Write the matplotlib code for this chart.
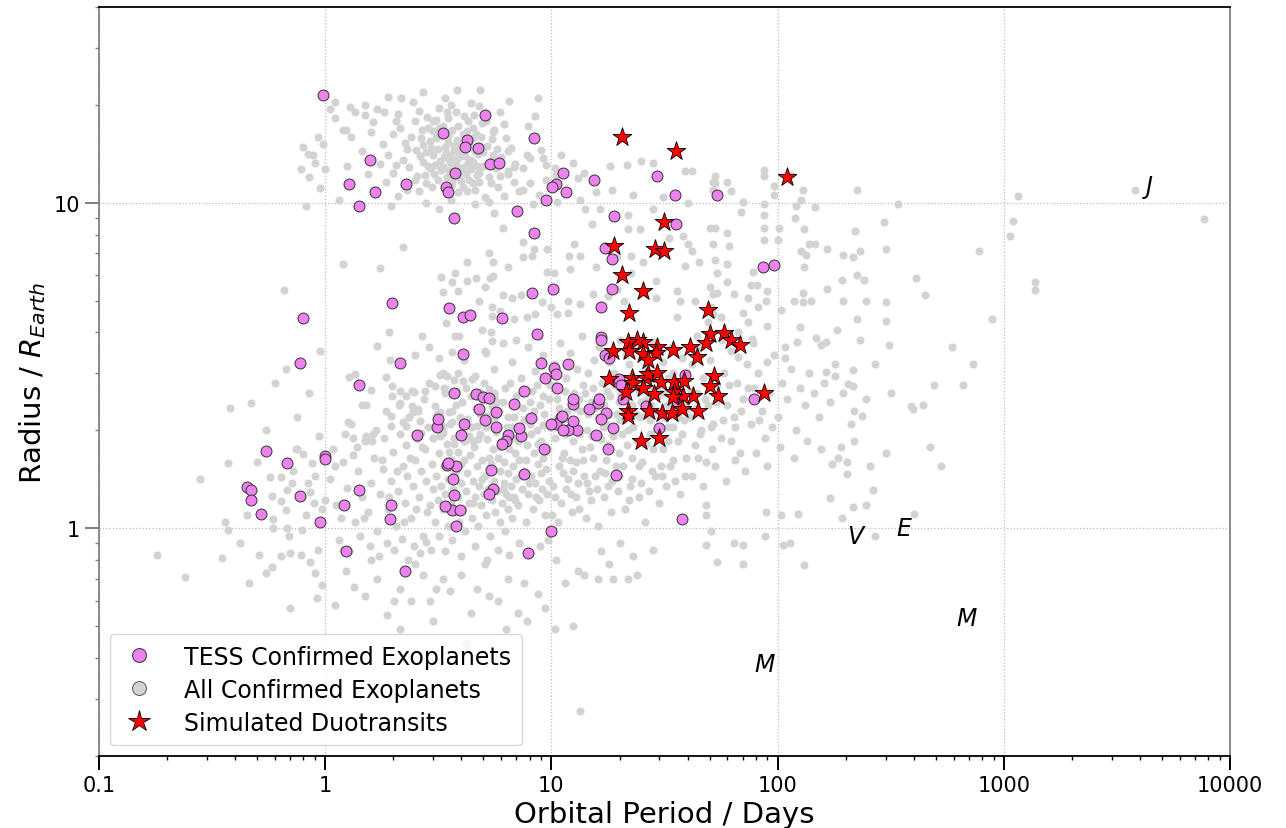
import numpy as np
import matplotlib
matplotlib.use("Agg")
import matplotlib.pyplot as plt
from matplotlib.lines import Line2D
from matplotlib.ticker import NullFormatter

# --- all confirmed exoplanets (period [d], radius [R_earth]) ---
gray_hot_jupiters = [
    (0.85, 12.0), (0.9, 13.3), (1.05, 19.5), (1.1, 18.3), (1.3, 15.9), (1.25, 13.0), (0.95, 11.1), (1.0, 12.7),
    (1.15, 10.2), (1.35, 19.0), (1.5, 18.6), (1.7, 19.4), (1.6, 16.5), (1.8, 15.2), (1.9, 14.0), (1.75, 13.2),
    (2.0, 12.4), (1.85, 11.6), (1.65, 11.0), (2.1, 10.5), (1.95, 9.8), (2.2, 13.6), (2.3, 14.7), (2.4, 16.0),
    (2.5, 17.8), (2.6, 19.2), (2.45, 20.5), (2.15, 17.0), (2.25, 15.3), (2.35, 12.9), (2.5, 11.8), (2.6, 10.9),
    (2.7, 13.4), (2.8, 14.3), (2.9, 15.5), (3.0, 16.6), (3.1, 18.0), (3.2, 19.6), (3.4, 21.0), (3.6, 20.0),
    (3.8, 19.0), (4.1, 18.5), (4.4, 20.3), (4.8, 19.8), (3.3, 17.2), (3.5, 16.1), (3.7, 15.0), (3.9, 14.2),
    (3.05, 13.1), (3.25, 12.6), (3.45, 12.0), (3.65, 11.4), (3.85, 10.8), (2.95, 11.2), (2.75, 12.2), (3.15, 14.6),
    (3.35, 13.8), (3.55, 13.4), (3.75, 12.9), (3.95, 12.5), (4.2, 13.0), (4.4, 13.6), (4.6, 14.4), (4.3, 15.4),
    (4.05, 16.3), (4.5, 17.0), (4.9, 16.0), (5.2, 15.0), (5.5, 14.0), (5.0, 13.0), (4.7, 12.2), (4.5, 11.5),
    (4.25, 10.9), (4.0, 11.7), (5.3, 12.0), (5.7, 12.8), (6.0, 13.8), (6.4, 12.5), (6.8, 11.6), (7.2, 10.9),
    (6.2, 10.5), (5.8, 11.2), (5.1, 10.4), (4.6, 9.9), (3.6, 10.2), (3.2, 9.6), (2.8, 10.0), (2.3, 11.0),
    (2.05, 13.1), (1.55, 12.3), (1.45, 14.4), (7.5, 12.8), (8.0, 11.5), (8.8, 10.6), (9.5, 11.8), (10.5, 12.2),
    (6.6, 14.8), (7.8, 14.0), (5.6, 16.8), (6.2, 17.5), (2.65, 15.8), (2.85, 17.0), (3.5, 18.3), (4.0, 14.8),
    (4.15, 13.9), (3.0, 14.0), (2.9, 12.8), (3.8, 13.5), (3.4, 14.9), (3.6, 12.2), (4.8, 12.4), (5.4, 13.5),
    (1.3, 11.5), (1.2, 16.8), (2.0, 16.3), (2.1, 18.8), (1.9, 21.2), (5.9, 19.0), (6.5, 20.6), (8.5, 18.5),
    (9.0, 14.5), (11.0, 14.0), (12.5, 13.3), (14.0, 12.4),
    (2.55, 12.1), (2.62, 13.9), (2.7, 15.1), (2.78, 11.5), (2.86, 13.0), (2.94, 14.8), (3.02, 12.3), (3.08, 15.8),
    (3.14, 11.8), (3.22, 13.5), (3.28, 16.2), (3.32, 12.9), (3.38, 11.3), (3.42, 14.2), (3.48, 15.4), (3.52, 12.6),
    (3.58, 13.9), (3.62, 16.8), (3.68, 11.9), (3.72, 14.5), (3.78, 13.1), (3.82, 15.6), (3.88, 12.0), (3.92, 13.8),
    (3.98, 15.2), (4.02, 12.8), (4.08, 11.2), (4.12, 14.6), (4.18, 12.3), (4.22, 16.6), (4.28, 13.3), (4.32, 11.8),
    (4.38, 14.9), (4.42, 12.7), (4.48, 15.8), (4.52, 13.4), (4.58, 11.0), (4.62, 16.3), (4.68, 13.0), (4.72, 14.1),
    (4.78, 11.6), (4.82, 15.0), (4.88, 12.9), (4.92, 17.6), (4.98, 14.3), (2.52, 14.5), (2.68, 16.8), (2.82, 18.4),
    (2.98, 17.8), (3.18, 17.0), (3.46, 19.0), (3.86, 17.3), (4.26, 17.9), (4.56, 18.7), (5.15, 17.9), (5.45, 15.7),
    (5.75, 14.7), (5.95, 12.1), (6.3, 15.8), (6.9, 13.2),
    (0.93, 16.0), (0.8, 14.9), (0.84, 14.1), (0.88, 14.0), (0.78, 12.7), (0.98, 15.2), (0.82, 9.8),
    (1.1, 20.4), (1.29, 19.7), (1.5, 20.0), (1.82, 19.1), (1.63, 17.7), (1.24, 16.7), (2.7, 22.0), (3.84, 22.3),
    (4.85, 22.3), (8.7, 21.0), (7.9, 17.3), (2.17, 21.0), (2.06, 17.8),
    (5.5, 16.5), (6.4, 14.4), (8.0, 13.7), (9.2, 13.7), (9.5, 13.1), (10.4, 12.8), (13.1, 11.9), (18.2, 13.0),
    (21.5, 13.1), (25.0, 13.5), (28.0, 13.3), (39.0, 12.5), (42.0, 12.5), (53.0, 12.1), (52.0, 11.6), (60.0, 11.6),
    (87.0, 12.6), (96.0, 11.3), (120.0, 9.8), (87.0, 9.9), (70.0, 10.1), (40.0, 10.0), (31.0, 10.4), (23.0, 10.6),
    (18.6, 11.0), (15.7, 10.8), (13.4, 10.2), (10.6, 10.1), (8.3, 9.9), (7.5, 11.0), (6.8, 12.9), (6.4, 12.3),
    (5.4, 11.5), (5.3, 10.1), (5.6, 9.3),
]

gray_mid_band = [
    (1.75, 6.3), (3.24, 5.93), (4.25, 6.6), (3.76, 6.1), (3.65, 5.7), (4.25, 5.76), (4.66, 5.88), (5.37, 5.88),
    (5.27, 7.0), (5.5, 6.6), (3.33, 5.33), (3.87, 5.37), (4.8, 5.0), (5.47, 4.8), (5.47, 4.5), (3.43, 4.28),
    (1.92, 4.02), (2.68, 3.9), (1.7, 3.64), (2.88, 3.6), (2.5, 3.4), (1.94, 3.3), (3.2, 3.34), (3.65, 3.49),
    (3.76, 3.9), (4.95, 4.08), (5.47, 3.77), (5.15, 3.47), (0.66, 5.4), (0.67, 3.1),
    (6.1, 8.4), (7.5, 7.6), (8.4, 7.2), (10.3, 6.1), (12.6, 7.5), (14.1, 9.6), (15.1, 8.6), (16.4, 9.6),
    (21.7, 9.2), (21.7, 8.3), (24.7, 8.3), (28.0, 9.6), (33.0, 7.8), (38.0, 7.9), (40.0, 7.5), (45.0, 6.6),
    (53.0, 6.7), (54.0, 6.1), (60.0, 6.5), (50.0, 8.4), (53.0, 8.4), (60.0, 8.1), (87.0, 8.4), (101.0, 8.4),
    (78.0, 6.15), (76.0, 5.6), (81.0, 5.6), (89.0, 5.0), (74.0, 5.1), (64.0, 5.25), (50.0, 5.5), (52.0, 5.25),
    (43.0, 5.0), (37.0, 5.0), (36.0, 5.37), (29.0, 5.77), (29.0, 5.1), (19.5, 5.45), (21.0, 5.0), (17.8, 5.16),
    (15.3, 5.25), (13.4, 4.9), (11.8, 4.6), (10.0, 4.8), (9.1, 4.95), (8.5, 4.55), (7.3, 5.2), (6.7, 5.1),
    (5.95, 4.65), (6.8, 4.4), (7.8, 4.45), (10.6, 4.55), (11.8, 5.0), (36.0, 4.45), (56.0, 4.45), (49.0, 4.3),
    (70.0, 4.6), (103.0, 4.7), (118.0, 5.0), (90.0, 5.37), (19.5, 6.8), (22.4, 6.85), (25.4, 6.6), (42.0, 7.1),
    (39.0, 6.4), (22.4, 6.1), (15.7, 6.35), (12.0, 6.85), (13.4, 6.85), (12.1, 6.25), (9.6, 6.15), (9.6, 7.2),
    (8.2, 6.85), (7.45, 6.8), (6.4, 6.35), (5.5, 5.97), (5.1, 5.5), (6.1, 5.2), (1.2, 6.5), (2.2, 7.3),
]

gray_far_right = [
    (3800, 11.0), (7700, 8.95), (1150, 10.5), (1100, 8.8), (1070, 7.9), (1370, 5.7), (1370, 5.4), (775, 7.1),
    (890, 4.4), (590, 3.6), (730, 3.2), (660, 2.76), (490, 2.76), (530, 1.55), (470, 1.78), (400, 1.11),
    (270, 0.95), (450, 5.2), (410, 5.9), (340, 9.9), (295, 8.75), (300, 7.2), (220, 8.2), (225, 11.0),
    (232, 7.1), (215, 6.8), (195, 6.9), (165, 7.2), (146, 9.7), (130, 11.0), (127, 10.2), (119, 9.0),
    (131, 8.3), (137, 7.5), (146, 7.5), (127, 7.1), (133, 6.9), (131, 6.35), (115, 12.2), (87, 12.1),
    (96, 10.6), (87, 9.2), (69, 9.4), (62, 10.9), (53, 11.5), (52, 11.0), (61, 7.4), (52, 7.5),
    (87, 7.7), (100, 7.7), (240, 5.8), (192, 5.8), (225, 6.0), (245, 5.0), (195, 5.0), (165, 5.45),
    (130, 5.3), (140, 5.0), (130, 4.95), (300, 4.95), (300, 4.35), (310, 3.65), (225, 4.4), (232, 3.8),
    (183, 4.08), (163, 3.75), (156, 3.65), (126, 4.17), (122, 3.75), (90, 4.2), (82, 4.8), (77, 3.83),
    (74, 4.3), (60, 5.7), (54, 5.3), (52, 4.55), (51, 4.8), (67, 3.37), (108, 3.35), (90, 3.25),
    (270, 3.2), (215, 3.07), (164, 3.03), (180, 2.95), (317, 2.6), (204, 2.78), (215, 2.73), (437, 2.4),
    (395, 2.33), (390, 2.37), (236, 2.22), (218, 2.3), (300, 1.7), (255, 1.55), (203, 1.47), (170, 1.24),
    (215, 1.16), (245, 1.18), (193, 1.08), (265, 1.31), (174, 1.58), (185, 1.64), (203, 1.6), (190, 1.78),
    (218, 1.86), (123, 1.11), (131, 0.77), (113, 0.9), (106, 0.89), (104, 1.1), (89, 1.12), (88, 0.95),
    (70, 0.89), (64, 0.9), (70, 0.78), (54, 0.79), (51, 0.98), (48, 0.89), (48, 1.18), (48, 1.1),
]

gray_left = [
    (0.28, 1.42), (0.37, 1.59), (0.38, 2.35), (0.47, 2.43), (0.36, 1.05), (0.37, 0.99), (0.58, 1.26), (0.64, 1.21),
    (0.67, 1.14), (0.59, 1.07), (0.59, 1.0), (0.68, 1.0), (0.69, 0.95), (0.79, 0.99), (0.82, 1.1), (0.86, 1.29),
    (0.89, 1.2), (0.84, 1.38), (0.71, 1.38), (0.68, 1.31), (0.64, 1.44), (0.57, 1.44), (0.72, 1.5), (0.87, 1.59),
    (0.74, 1.75), (0.8, 1.69), (0.94, 1.92), (0.93, 0.86), (0.45, 1.1), (0.5, 1.6), (0.55, 2.0), (0.6, 2.8),
    (0.75, 2.2), (0.85, 2.6), (0.95, 3.5), (0.9, 1.45), (0.97, 1.15), (0.78, 1.25), (0.42, 0.9), (0.75, 1.76),
    (1.28, 2.92), (1.36, 2.99), (1.86, 2.92), (1.98, 2.73), (1.6, 2.67), (2.15, 2.65), (2.48, 2.63), (2.77, 2.65),
    (3.23, 2.96), (3.46, 2.94), (3.87, 3.0), (3.07, 2.74), (3.36, 2.7), (4.05, 2.83), (4.47, 2.88), (4.85, 2.63),
    (5.3, 2.69), (1.46, 2.4), (1.26, 2.13), (1.32, 1.9), (1.52, 1.92), (1.61, 1.85), (1.96, 2.22), (1.96, 2.06),
    (2.21, 2.13), (2.28, 2.06), (2.35, 2.2), (2.45, 2.28), (2.58, 2.32), (2.63, 2.14), (2.43, 2.38), (2.28, 2.56),
    (2.15, 2.43), (2.66, 1.96), (3.07, 2.38), (3.23, 2.28), (3.54, 2.28), (3.65, 2.13), (3.3, 2.07), (3.33, 1.98),
    (4.25, 2.17), (4.7, 2.07), (5.2, 2.22), (5.47, 2.38), (5.6, 2.56), (3.23, 1.92), (3.0, 1.89), (3.7, 1.82),
    (4.15, 1.85), (4.5, 1.86),
]

gray_small = [
    (0.18, 0.83), (0.24, 0.71), (0.35, 0.81), (0.46, 0.68), (0.51, 0.83), (0.55, 0.73), (0.58, 0.76), (0.64, 0.82),
    (0.7, 0.84), (0.78, 0.83), (0.86, 0.79), (0.9, 0.73), (0.97, 0.67), (0.7, 0.57), (0.92, 0.61), (1.1, 0.58),
    (1.34, 0.66), (1.23, 0.74), (1.5, 0.62), (1.7, 0.7), (1.88, 0.54), (2.02, 0.6), (2.15, 0.65), (2.4, 0.6),
    (2.7, 0.72), (2.9, 0.6), (3.1, 0.65), (3.55, 0.64), (4.0, 0.72), (4.7, 0.65), (5.3, 0.62), (5.8, 0.6),
    (6.3, 0.49), (7.1, 0.55), (7.8, 0.52), (9.4, 0.57), (8.7, 0.63), (10.4, 0.49), (12.5, 0.5), (13.4, 0.275),
    (13.1, 0.74), (16.0, 0.7), (18.8, 0.7), (21.7, 0.7), (24.0, 0.72), (2.13, 0.49), (6.4, 0.7), (10.5, 0.8),
    (11.5, 0.68), (14.0, 0.72), (16.5, 0.85), (18.0, 0.78), (20.0, 0.9), (23.0, 0.82), (28.0, 0.86), (4.4, 0.55),
    (5.1, 0.78), (7.6, 0.68), (3.3, 0.7), (2.5, 0.78), (1.6, 0.8), (1.2, 0.86), (3.0, 0.52), (4.2, 0.44),
]

gray_core = [
    # P 1-3
    (1.05, 1.42), (1.12, 1.18), (1.2, 1.6), (1.25, 1.33), (1.3, 2.1), (1.35, 1.05), (1.4, 1.5), (1.45, 1.25),
    (1.5, 1.85), (1.55, 1.12), (1.6, 1.38), (1.65, 1.65), (1.7, 0.98), (1.75, 1.28), (1.8, 1.52), (1.85, 2.3),
    (1.9, 1.15), (1.95, 1.4), (2.0, 1.72), (2.05, 1.02), (2.1, 1.3), (2.15, 1.95), (2.2, 1.55), (2.25, 1.2),
    (2.3, 1.45), (2.35, 2.2), (2.4, 1.08), (2.45, 1.35), (2.5, 1.62), (2.55, 1.88), (2.6, 1.25), (2.65, 1.5),
    (2.7, 0.95), (2.75, 1.75), (2.8, 1.4), (2.85, 2.05), (2.9, 1.18), (2.95, 1.58), (3.0, 1.32), (1.15, 0.92),
    (1.28, 0.85), (1.42, 0.95), (1.58, 0.88), (1.72, 0.82), (1.88, 0.9), (2.02, 0.86), (2.18, 0.93), (2.32, 0.8),
    (2.48, 0.88), (2.62, 0.84), (2.78, 0.91), (2.92, 0.86), (1.08, 1.75), (1.22, 1.95), (1.38, 1.78), (1.52, 2.4),
    (1.68, 2.0), (1.82, 1.9), (1.98, 2.55), (2.12, 2.4), (2.28, 1.8), (2.42, 2.65), (2.58, 2.3), (2.72, 2.5),
    (2.88, 2.8), (1.0, 1.22), (1.1, 1.55), (1.18, 1.08), (1.33, 1.68), (1.48, 1.08), (1.62, 1.95), (1.78, 1.62),
    (1.92, 1.25), (2.08, 1.5), (2.22, 1.05), (2.38, 1.65), (2.52, 1.15), (2.68, 1.78), (2.82, 1.12), (2.98, 1.9),
    # P 3-10
    (3.05, 1.05), (3.1, 1.45), (3.12, 2.25), (3.15, 1.22), (3.18, 1.7), (3.2, 0.95), (3.25, 1.35), (3.28, 1.95),
    (3.3, 1.15), (3.35, 1.55), (3.38, 2.6), (3.4, 1.28), (3.45, 1.82), (3.48, 1.02), (3.5, 1.42), (3.55, 2.1),
    (3.58, 1.2), (3.6, 1.62), (3.65, 0.92), (3.68, 1.32), (3.7, 1.9), (3.75, 1.12), (3.78, 2.4), (3.8, 1.5),
    (3.85, 1.25), (3.88, 1.72), (3.9, 1.05), (3.95, 2.2), (3.98, 1.38), (4.0, 1.58), (4.05, 1.15), (4.1, 1.85),
    (4.15, 0.98), (4.18, 1.3), (4.2, 2.7), (4.25, 1.48), (4.3, 1.2), (4.35, 1.68), (4.4, 2.05), (4.45, 1.08),
    (4.5, 1.4), (4.55, 1.78), (4.6, 1.25), (4.65, 2.35), (4.7, 1.55), (4.75, 1.02), (4.8, 1.35), (4.85, 1.95),
    (4.9, 1.18), (4.95, 1.62), (5.0, 2.5), (5.05, 1.28), (5.1, 1.45), (5.15, 1.1), (5.2, 1.88), (5.25, 1.32),
    (5.3, 2.15), (5.35, 0.95), (5.4, 1.58), (5.45, 1.22), (5.5, 1.75), (5.55, 2.6), (5.6, 1.4), (5.65, 1.12),
    (5.7, 1.98), (5.75, 1.3), (5.8, 1.65), (5.85, 2.3), (5.9, 1.05), (5.95, 1.5), (6.0, 1.85), (6.05, 1.2),
    (6.1, 2.45), (6.15, 1.38), (6.2, 1.6), (6.25, 0.98), (6.3, 1.28), (6.35, 2.05), (6.4, 1.48), (6.45, 1.15),
    (6.5, 1.75), (6.55, 2.8), (6.6, 1.35), (6.65, 1.9), (6.7, 1.08), (6.75, 1.55), (6.8, 2.2), (6.85, 1.25),
    (6.9, 1.7), (6.95, 1.42), (7.0, 2.55), (7.1, 1.18), (7.2, 1.62), (7.3, 1.95), (7.4, 1.32), (7.5, 2.35),
    (7.6, 1.5), (7.7, 1.05), (7.8, 1.8), (7.9, 1.28), (8.0, 2.1), (8.1, 1.45), (8.2, 2.65), (8.3, 1.15),
    (8.4, 1.7), (8.5, 1.38), (8.6, 2.0), (8.7, 1.58), (8.8, 1.22), (8.9, 2.4), (9.0, 1.85), (9.1, 1.32),
    (9.2, 1.65), (9.3, 2.25), (9.4, 1.1), (9.5, 1.52), (9.6, 2.9), (9.7, 1.75), (9.8, 1.4), (9.9, 2.05),
    (3.3, 3.0), (3.7, 2.85), (4.1, 3.3), (4.6, 2.95), (5.1, 3.5), (5.6, 3.1), (6.1, 3.7), (6.7, 3.25),
    (7.3, 2.9), (7.9, 3.6), (8.5, 3.05), (9.2, 3.4), (3.9, 3.9), (5.4, 4.0), (7.0, 3.8), (8.8, 3.9),
    (3.4, 0.85), (4.0, 0.82), (4.6, 0.88), (5.2, 0.8), (5.8, 0.86), (6.5, 0.83), (7.2, 0.9), (8.0, 0.84),
    (8.9, 0.88), (9.7, 0.92),
    (3.52, 1.72), (3.72, 1.48), (3.92, 1.95), (4.12, 1.62), (4.32, 1.92), (4.52, 1.2), (4.72, 1.88), (4.92, 1.42),
    (5.12, 2.05), (5.32, 1.65), (5.52, 1.35), (5.72, 2.45), (5.92, 1.78), (6.12, 1.32), (6.32, 1.95), (6.52, 1.25),
    (6.72, 2.05), (6.92, 1.22), (7.15, 1.85), (7.35, 1.45), (7.55, 2.15), (7.75, 1.62), (7.95, 1.38), (8.15, 1.95),
    (8.35, 2.3), (8.55, 1.25), (8.75, 1.82), (8.95, 1.48), (9.15, 2.08), (9.35, 1.72), (9.55, 1.28), (9.75, 2.5),
    (4.42, 2.55), (5.02, 2.8), (5.62, 2.2), (6.22, 2.7), (6.82, 2.4), (7.42, 2.6), (8.02, 2.45), (8.62, 2.75),
    (9.22, 2.55), (9.82, 2.75), (3.62, 2.3), (3.82, 2.65), (4.02, 2.45), (4.82, 2.25), (5.82, 2.05), (6.42, 2.2),
    # P 10-40
    (10.2, 1.35), (10.4, 1.9), (10.6, 2.5), (10.8, 1.55), (11.0, 1.2), (11.2, 2.2), (11.4, 1.7), (11.6, 2.9),
    (11.8, 1.42), (12.0, 2.05), (12.2, 1.28), (12.4, 1.85), (12.6, 2.6), (12.8, 1.6), (13.0, 3.1), (13.2, 1.15),
    (13.4, 2.3), (13.6, 1.75), (13.8, 2.75), (14.0, 1.45), (14.3, 2.0), (14.6, 1.3), (14.9, 2.45), (15.2, 1.65),
    (15.5, 3.3), (15.8, 1.95), (16.1, 2.2), (16.4, 1.5), (16.7, 2.8), (17.0, 1.25), (17.4, 2.1), (17.8, 1.8),
    (18.2, 2.55), (18.6, 1.4), (19.0, 3.0), (19.4, 2.25), (19.8, 1.7), (20.3, 2.6), (20.8, 1.55), (21.3, 3.4),
    (21.8, 2.0), (22.3, 1.35), (22.8, 2.4), (23.4, 2.9), (24.0, 1.85), (24.6, 2.2), (25.2, 1.6), (25.8, 3.1),
    (26.5, 2.5), (27.2, 1.95), (27.9, 2.7), (28.6, 1.45), (29.4, 2.3), (30.2, 3.5), (31.0, 1.75), (31.8, 2.6),
    (32.7, 2.05), (33.6, 1.55), (34.5, 3.0), (35.4, 2.35), (36.4, 1.85), (37.4, 2.8), (38.4, 2.15), (39.5, 1.65),
    (10.3, 3.2), (10.9, 3.7), (11.5, 2.65), (12.1, 3.45), (12.9, 2.35), (13.7, 3.9), (14.5, 3.0), (15.3, 2.7),
    (16.2, 3.6), (17.1, 2.4), (18.0, 3.25), (19.1, 2.75), (20.0, 3.8), (21.0, 2.9), (22.1, 3.2), (23.2, 3.65),
    (24.4, 2.65), (25.6, 3.4), (26.9, 2.85), (28.2, 3.75), (29.6, 2.55), (31.1, 3.25), (32.6, 2.9), (34.2, 3.6),
    (35.9, 2.7), (37.7, 3.35), (39.6, 3.0), (10.1, 1.1), (10.7, 1.05), (11.3, 1.48), (12.3, 1.12), (13.1, 1.38),
    (14.2, 1.08), (15.0, 1.22), (16.0, 1.02), (17.2, 1.48), (18.4, 1.12), (19.6, 1.3), (21.1, 1.15), (22.6, 1.42),
    (24.3, 1.25), (26.0, 1.05), (27.8, 1.5), (29.9, 1.2), (32.0, 1.35), (34.4, 1.62), (36.9, 1.28), (39.0, 1.45),
    (10.5, 2.15), (11.1, 1.65), (11.7, 2.3), (12.5, 1.5), (13.3, 1.95), (14.1, 2.6), (14.8, 1.78), (15.6, 2.35),
    (16.5, 1.88), (17.6, 2.65), (18.8, 1.92), (20.1, 2.15), (21.5, 1.8), (23.0, 2.05), (24.8, 2.45), (26.2, 2.25),
    (27.5, 2.4), (29.0, 2.0), (30.7, 2.7), (32.3, 2.4), (33.9, 2.25), (35.7, 2.55), (38.0, 2.45),
    (10.25, 2.75), (10.85, 2.35), (11.45, 1.95), (12.05, 1.62), (12.65, 2.12), (13.25, 2.5), (13.85, 1.62),
    (14.45, 2.25), (15.05, 1.92), (15.65, 1.45), (16.25, 2.55), (16.85, 2.05), (17.45, 1.62), (18.05, 2.25),
    (18.65, 2.85), (19.25, 1.55), (19.85, 2.45), (20.55, 1.95), (21.25, 2.3), (21.95, 2.7), (22.65, 1.65),
    (23.55, 2.25), (24.45, 1.55), (25.35, 2.75), (26.25, 1.82), (27.15, 2.15), (28.05, 1.75), (29.2, 2.6),
    (30.4, 1.55), (31.5, 2.2), (32.9, 1.85), (34.6, 2.05), (36.2, 2.2), (37.9, 1.95), (39.8, 2.35),
    (10.4, 1.25), (11.6, 1.32), (12.9, 1.25), (14.4, 1.38), (15.9, 1.32), (17.7, 1.35), (19.9, 1.45),
    (22.0, 1.22), (24.9, 1.38), (27.0, 1.3), (30.9, 1.45), (35.0, 1.4),
    # P 40-400
    (41, 2.2), (42, 3.2), (43, 1.8), (44, 2.6), (45, 3.6), (46, 2.0), (47, 2.9), (48, 1.6), (49, 2.4), (50, 3.3),
    (52, 2.1), (54, 2.75), (56, 1.9), (58, 3.0), (60, 2.4), (62, 3.5), (64, 2.2), (66, 2.8), (68, 1.7), (70, 2.5),
    (73, 3.2), (76, 2.1), (79, 2.7), (82, 3.0), (85, 2.3), (88, 1.9), (92, 2.6), (96, 3.4), (100, 2.2), (105, 2.8),
    (110, 2.5), (115, 3.1), (120, 2.0), (126, 2.7), (132, 2.4), (138, 3.0), (145, 2.6), (152, 2.2), (160, 2.8),
    (170, 2.45), (180, 3.2), (195, 2.6), (210, 2.1), (245, 2.5), (42, 1.45), (47, 1.35), (53, 1.55), (59, 1.4),
    (65, 1.62), (72, 1.5), (80, 1.7), (90, 1.55), (102, 1.78), (118, 1.65), (135, 1.85), (155, 1.75),
    (44, 3.9), (57, 3.8), (67, 4.0), (78, 3.7), (108, 3.6), (148, 3.85),
    (41.5, 2.65), (43.5, 2.35), (45.5, 1.95), (47.5, 2.5), (50.5, 2.05), (53.5, 2.45), (57.5, 2.15), (61.0, 2.75),
    (65.0, 2.05), (69.0, 2.3), (74.0, 2.7), (83.0, 2.15), (94.0, 2.05), (44.5, 1.65), (51.5, 1.75), (62.0, 1.85),
]

# --- TESS confirmed planets ---
tess_period = [
    0.98, 5.06, 3.33, 4.25, 8.4, 4.15, 4.75, 1.58, 5.37, 5.89, 11.3, 3.76, 1.28, 2.28, 3.43, 3.5,
    1.66, 10.5, 10.1, 11.6, 9.5, 15.5, 29.4, 35.0, 53.7, 1.41, 3.72, 19.0, 7.07, 35.7, 8.4, 17.3,
    18.6, 85.9, 96.0, 18.6, 10.2, 8.24, 1.98, 0.80, 3.54, 4.08, 4.38, 6.07, 16.5, 8.6, 4.08, 0.775,
    2.13, 16.5, 11.8, 9.0, 10.3, 17.3, 1.41, 10.5, 9.4, 10.6, 3.13, 3.72, 4.66, 5.0, 5.27, 4.8,
    5.7, 6.8, 7.6, 8.1, 11.0, 12.5, 13.0, 11.8, 10.5, 10.0, 16.0, 17.5, 15.8, 17.8, 19.2, 9.3,
    7.6, 6.45, 6.3, 6.07, 5.7, 7.3, 5.43, 5.5, 5.3, 3.8, 3.46, 3.68, 4.0, 4.1, 3.72, 3.65,
    3.95, 3.4, 3.8, 2.55, 3.16, 1.96, 1.94, 1.41, 1.21, 1.0, 1.0, 0.775, 0.68, 0.55, 0.45, 0.47,
    0.47, 0.52, 0.95, 1.24, 2.26, 10.0, 7.9, 37.6, 18.8, 16.6, 17.9, 19.8, 20.4, 20.8, 38.8, 26.3,
    30.0, 78.3, 36.0, 12.4, 16.2, 14.6, 16.5, 12.4, 11.3, 5.06, 7.2, 11.1, 3.5,
]
tess_radius = [
    21.4, 18.7, 16.4, 15.6, 15.8, 14.9, 14.8, 13.6, 13.2, 13.3, 12.4, 12.4, 11.4, 11.4, 11.2, 10.8,
    10.8, 11.4, 11.2, 10.8, 10.2, 11.8, 12.1, 10.6, 10.6, 9.8, 9.0, 9.1, 9.45, 8.6, 8.1, 7.28,
    6.73, 6.37, 6.45, 5.45, 5.45, 5.3, 4.93, 4.44, 4.77, 4.47, 4.52, 4.44, 4.8, 3.96, 3.44, 3.23,
    3.23, 3.87, 3.2, 3.23, 3.12, 3.4, 2.76, 2.98, 2.89, 2.7, 2.05, 2.6, 2.58, 2.54, 2.52, 2.32,
    2.28, 2.42, 2.65, 2.19, 2.2, 2.42, 2.0, 2.0, 2.1, 2.09, 2.43, 2.27, 1.94, 1.76, 1.46, 1.75,
    1.47, 1.93, 1.86, 1.82, 2.05, 1.92, 1.51, 1.32, 1.28, 1.55, 1.57, 1.42, 1.94, 2.09, 1.27, 1.14,
    1.14, 1.17, 1.02, 1.93, 2.17, 1.18, 1.07, 1.31, 1.18, 1.67, 1.63, 1.26, 1.59, 1.73, 1.34, 1.31,
    1.22, 1.11, 1.05, 0.85, 0.74, 0.98, 0.84, 1.07, 2.03, 3.8, 3.35, 2.88, 2.75, 2.5, 2.97, 2.38,
    2.03, 2.5, 2.45, 2.49, 2.49, 2.33, 2.17, 2.14, 2.0, 2.16, 2.03, 2.22, 1.59,
]

# --- simulated duotransits ---
sim_period = [
    20.6, 35.7, 109.6, 31.3, 19.0, 28.6, 31.6, 20.6, 25.5, 22.1, 49.0, 50.0, 57.7, 62.0, 67.9, 48.0,
    40.8, 43.8, 34.3, 29.4, 28.9, 25.5, 24.0, 21.7, 18.8, 22.0, 25.3, 26.6, 17.9, 22.8, 23.0, 26.1,
    26.6, 29.4, 30.4, 34.7, 38.4, 52.1, 50.0, 54.3, 42.1, 38.0, 34.7, 34.3, 28.3, 25.3, 21.3, 21.7,
    21.7, 27.1, 30.7, 34.0, 37.6, 44.3, 24.8, 30.0, 86.7,
]
sim_radius = [
    15.9, 14.4, 12.0, 8.74, 7.38, 7.22, 7.12, 6.01, 5.37, 4.6, 4.7, 3.96, 3.99, 3.8, 3.67, 3.72,
    3.62, 3.37, 3.54, 3.62, 3.47, 3.75, 3.78, 3.75, 3.52, 3.52, 3.44, 3.3, 2.88, 2.9, 2.79, 2.9,
    2.99, 3.01, 2.82, 2.82, 2.84, 2.95, 2.73, 2.56, 2.56, 2.56, 2.63, 2.54, 2.58, 2.71, 2.63, 2.3,
    2.21, 2.29, 2.27, 2.27, 2.33, 2.29, 1.86, 1.89, 2.6,
]

# solar system planets
ss_letters = ["M", "V", "E", "M", "J"]
ss_period = [87.97, 224.7, 365.25, 687.0, 4331.0]
ss_radius = [0.383, 0.949, 1.0, 0.532, 11.21]

gray = np.array(gray_hot_jupiters + gray_mid_band + gray_far_right + gray_left + gray_small + gray_core)

fig = plt.figure(figsize=(12.86, 8.29), dpi=100)
ax = fig.add_axes([0.077, 0.087, 0.8795, 0.9033])

ax.scatter(gray[:, 0], gray[:, 1], s=34, color="lightgrey", linewidths=0, zorder=2)
ax.scatter(tess_period, tess_radius, s=62, color="violet", edgecolors="#333333", linewidths=0.7, zorder=3)
ax.scatter(sim_period, sim_radius, s=200, marker="*", color="red", edgecolors="black", linewidths=0.6, zorder=4)

for lab, p, r in zip(ss_letters, ss_period, ss_radius):
    ax.text(p, r, "$" + lab + "$", fontsize=17, ha="center", va="center", zorder=5)

ax.set_xscale("log")
ax.set_yscale("log")
ax.set_xlim(0.1, 10000)
ax.set_ylim(0.2, 40)
ax.set_xticks([0.1, 1, 10, 100, 1000, 10000], labels=["0.1", "1", "10", "100", "1000", "10000"])
ax.set_yticks([1, 10], labels=["1", "10"])
ax.xaxis.set_minor_formatter(NullFormatter())
ax.yaxis.set_minor_formatter(NullFormatter())

ax.tick_params(which="major", length=10, width=1.4, labelsize=15)
ax.tick_params(which="minor", length=3, width=1.0)
ax.tick_params(axis="y", which="both", color="grey")
ax.spines["left"].set_color("grey")
ax.spines["right"].set_color("grey")
for s in ax.spines.values():
    s.set_linewidth(1.3)

ax.grid(True, which="major", linestyle=":", color="#bbbbbb", linewidth=0.9, zorder=0)
ax.set_axisbelow(True)

ax.set_xlabel("Orbital Period / Days", fontsize=21)
ax.set_ylabel("Radius / $R_{Earth}$", fontsize=21)

handles = [
    Line2D([], [], linestyle="none", marker="o", markersize=10, markerfacecolor="violet",
           markeredgecolor="#333333", markeredgewidth=0.7, label="TESS Confirmed Exoplanets"),
    Line2D([], [], linestyle="none", marker="o", markersize=10, markerfacecolor="lightgrey",
           markeredgecolor="#555555", markeredgewidth=0.7, label="All Confirmed Exoplanets"),
    Line2D([], [], linestyle="none", marker="*", markersize=16, markerfacecolor="red",
           markeredgecolor="black", markeredgewidth=0.6, label="Simulated Duotransits"),
]
ax.legend(handles=handles, loc="lower left", fontsize=17, borderpad=0.45, handlelength=1.6,
          handletextpad=1.1, borderaxespad=0.45, labelspacing=0.38)

fig.savefig("out.png", dpi=100)
